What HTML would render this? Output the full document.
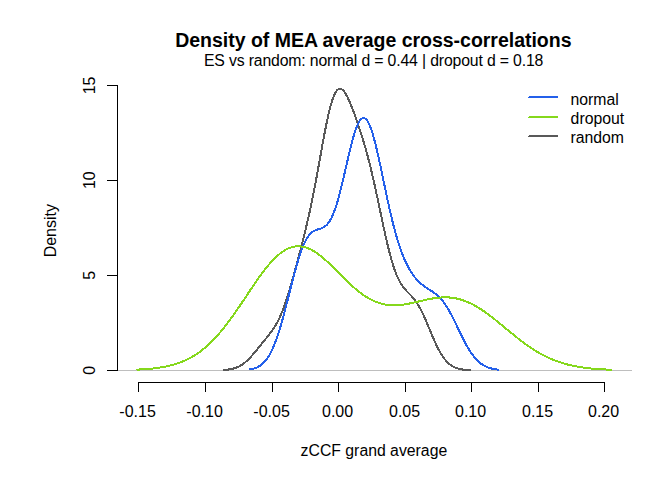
<!DOCTYPE html>
<html><head><meta charset="utf-8"><title>Density of MEA average cross-correlations</title>
<style>
html,body{margin:0;padding:0;background:#fff;width:672px;height:480px;overflow:hidden;font-family:"Liberation Sans",sans-serif;}
</style></head>
<body>
<svg width="672" height="480" viewBox="0 0 672 480" style="display:block;position:absolute;left:0;top:0">
<rect width="672" height="480" fill="#fff"/>
<g shape-rendering="crispEdges" stroke="#BEBEBE" stroke-width="1"><line x1="117" y1="370.5" x2="632" y2="370.5"/></g>
<g fill="none" stroke-width="2" stroke-linejoin="round" stroke-linecap="butt" shape-rendering="crispEdges">
<path d="M222.9,370.00 L223.9,369.96 L224.9,369.89 L225.9,369.81 L226.9,369.71 L227.9,369.59 L228.9,369.46 L229.9,369.30 L230.9,369.12 L231.9,368.91 L232.9,368.67 L233.9,368.40 L234.9,368.10 L235.9,367.75 L236.9,367.37 L237.9,366.94 L238.9,366.47 L239.9,365.94 L240.9,365.37 L241.9,364.74 L242.9,364.07 L243.9,363.34 L244.9,362.55 L245.9,361.71 L246.9,360.82 L247.9,359.88 L248.9,358.90 L249.9,357.86 L250.9,356.79 L251.9,355.68 L252.9,354.54 L253.9,353.37 L254.9,352.17 L255.9,350.96 L256.9,349.74 L257.9,348.51 L258.9,347.27 L259.9,346.03 L260.9,344.79 L261.9,343.56 L262.9,342.33 L263.9,341.10 L264.9,339.88 L265.9,338.65 L266.9,337.42 L267.9,336.17 L268.9,334.91 L269.9,333.61 L270.9,332.28 L271.9,330.91 L272.9,329.47 L273.9,327.97 L274.9,326.38 L275.9,324.71 L276.9,322.93 L277.9,321.05 L278.9,319.05 L279.9,316.92 L280.9,314.67 L281.9,312.28 L282.9,309.76 L283.9,307.11 L284.9,304.32 L285.9,301.42 L286.9,298.39 L287.9,295.24 L288.9,292.00 L289.9,288.65 L290.9,285.23 L291.9,281.73 L292.9,278.16 L293.9,274.54 L294.9,270.88 L295.9,267.17 L296.9,263.44 L297.9,259.67 L298.9,255.87 L299.9,252.05 L300.9,248.19 L301.9,244.30 L302.9,240.36 L303.9,236.37 L304.9,232.32 L305.9,228.19 L306.9,223.98 L307.9,219.67 L308.9,215.25 L309.9,210.72 L310.9,206.07 L311.9,201.28 L312.9,196.36 L313.9,191.32 L314.9,186.14 L315.9,180.86 L316.9,175.47 L317.9,170.00 L318.9,164.46 L319.9,158.89 L320.9,153.30 L321.9,147.75 L322.9,142.25 L323.9,136.84 L324.9,131.57 L325.9,126.47 L326.9,121.57 L327.9,116.92 L328.9,112.55 L329.9,108.49 L330.9,104.76 L331.9,101.39 L332.9,98.40 L333.9,95.80 L334.9,93.61 L335.9,91.82 L336.9,90.45 L337.9,89.47 L338.9,88.88 L339.9,88.67 L340.9,88.82 L341.9,89.31 L342.9,90.12 L343.9,91.21 L344.9,92.57 L345.9,94.17 L346.9,95.98 L347.9,97.97 L348.9,100.12 L349.9,102.42 L350.9,104.83 L351.9,107.34 L352.9,109.94 L353.9,112.61 L354.9,115.35 L355.9,118.15 L356.9,121.01 L357.9,123.92 L358.9,126.89 L359.9,129.91 L360.9,133.00 L361.9,136.17 L362.9,139.41 L363.9,142.73 L364.9,146.15 L365.9,149.67 L366.9,153.29 L367.9,157.03 L368.9,160.87 L369.9,164.83 L370.9,168.91 L371.9,173.09 L372.9,177.39 L373.9,181.79 L374.9,186.27 L375.9,190.85 L376.9,195.49 L377.9,200.18 L378.9,204.91 L379.9,209.66 L380.9,214.42 L381.9,219.15 L382.9,223.85 L383.9,228.49 L384.9,233.05 L385.9,237.51 L386.9,241.85 L387.9,246.05 L388.9,250.11 L389.9,253.99 L390.9,257.69 L391.9,261.21 L392.9,264.52 L393.9,267.62 L394.9,270.52 L395.9,273.21 L396.9,275.69 L397.9,277.97 L398.9,280.05 L399.9,281.95 L400.9,283.68 L401.9,285.25 L402.9,286.68 L403.9,287.99 L404.9,289.20 L405.9,290.33 L406.9,291.40 L407.9,292.42 L408.9,293.43 L409.9,294.44 L410.9,295.47 L411.9,296.53 L412.9,297.66 L413.9,298.85 L414.9,300.12 L415.9,301.48 L416.9,302.95 L417.9,304.51 L418.9,306.19 L419.9,307.97 L420.9,309.85 L421.9,311.84 L422.9,313.91 L423.9,316.07 L424.9,318.30 L425.9,320.60 L426.9,322.94 L427.9,325.32 L428.9,327.73 L429.9,330.14 L430.9,332.54 L431.9,334.92 L432.9,337.27 L433.9,339.57 L434.9,341.81 L435.9,343.99 L436.9,346.08 L437.9,348.09 L438.9,350.01 L439.9,351.83 L440.9,353.56 L441.9,355.17 L442.9,356.68 L443.9,358.09 L444.9,359.39 L445.9,360.60 L446.9,361.70 L447.9,362.70 L448.9,363.61 L449.9,364.44 L450.9,365.18 L451.9,365.85 L452.9,366.44 L453.9,366.97 L454.9,367.44 L455.9,367.85 L456.9,368.21 L457.9,368.52 L458.9,368.80 L459.9,369.03 L460.9,369.23 L461.9,369.41 L462.9,369.56 L463.9,369.68 L464.9,369.79 L465.9,369.88 L466.9,369.95 L467.9,370.00 L468.9,370.00 L469.9,370.00 L470.6,370.00" stroke="#595959"/>
<path d="M249.5,369.48 L250.5,369.32 L251.5,369.13 L252.5,368.91 L253.5,368.65 L254.5,368.36 L255.5,368.01 L256.5,367.62 L257.5,367.17 L258.5,366.65 L259.5,366.07 L260.5,365.41 L261.5,364.66 L262.5,363.83 L263.5,362.89 L264.5,361.85 L265.5,360.70 L266.5,359.43 L267.5,358.03 L268.5,356.49 L269.5,354.82 L270.5,353.01 L271.5,351.04 L272.5,348.93 L273.5,346.66 L274.5,344.23 L275.5,341.65 L276.5,338.92 L277.5,336.03 L278.5,332.99 L279.5,329.82 L280.5,326.51 L281.5,323.07 L282.5,319.52 L283.5,315.86 L284.5,312.11 L285.5,308.29 L286.5,304.40 L287.5,300.47 L288.5,296.50 L289.5,292.53 L290.5,288.56 L291.5,284.61 L292.5,280.71 L293.5,276.86 L294.5,273.10 L295.5,269.43 L296.5,265.87 L297.5,262.44 L298.5,259.15 L299.5,256.01 L300.5,253.04 L301.5,250.24 L302.5,247.63 L303.5,245.20 L304.5,242.97 L305.5,240.94 L306.5,239.10 L307.5,237.45 L308.5,235.99 L309.5,234.71 L310.5,233.60 L311.5,232.66 L312.5,231.86 L313.5,231.19 L314.5,230.64 L315.5,230.19 L316.5,229.81 L317.5,229.48 L318.5,229.19 L319.5,228.90 L320.5,228.60 L321.5,228.26 L322.5,227.85 L323.5,227.36 L324.5,226.76 L325.5,226.02 L326.5,225.13 L327.5,224.06 L328.5,222.81 L329.5,221.35 L330.5,219.67 L331.5,217.77 L332.5,215.64 L333.5,213.27 L334.5,210.66 L335.5,207.81 L336.5,204.74 L337.5,201.45 L338.5,197.95 L339.5,194.26 L340.5,190.39 L341.5,186.38 L342.5,182.23 L343.5,177.98 L344.5,173.65 L345.5,169.28 L346.5,164.90 L347.5,160.53 L348.5,156.22 L349.5,151.98 L350.5,147.87 L351.5,143.90 L352.5,140.12 L353.5,136.55 L354.5,133.22 L355.5,130.16 L356.5,127.40 L357.5,124.96 L358.5,122.85 L359.5,121.10 L360.5,119.73 L361.5,118.73 L362.5,118.13 L363.5,117.93 L364.5,118.13 L365.5,118.73 L366.5,119.72 L367.5,121.10 L368.5,122.85 L369.5,124.97 L370.5,127.43 L371.5,130.22 L372.5,133.33 L373.5,136.71 L374.5,140.36 L375.5,144.25 L376.5,148.34 L377.5,152.62 L378.5,157.05 L379.5,161.61 L380.5,166.27 L381.5,171.00 L382.5,175.79 L383.5,180.59 L384.5,185.39 L385.5,190.17 L386.5,194.90 L387.5,199.57 L388.5,204.15 L389.5,208.64 L390.5,213.01 L391.5,217.27 L392.5,221.39 L393.5,225.37 L394.5,229.21 L395.5,232.90 L396.5,236.43 L397.5,239.81 L398.5,243.04 L399.5,246.12 L400.5,249.04 L401.5,251.82 L402.5,254.46 L403.5,256.96 L404.5,259.33 L405.5,261.57 L406.5,263.69 L407.5,265.70 L408.5,267.59 L409.5,269.37 L410.5,271.06 L411.5,272.65 L412.5,274.14 L413.5,275.55 L414.5,276.88 L415.5,278.13 L416.5,279.30 L417.5,280.40 L418.5,281.44 L419.5,282.41 L420.5,283.32 L421.5,284.18 L422.5,284.99 L423.5,285.76 L424.5,286.48 L425.5,287.18 L426.5,287.85 L427.5,288.49 L428.5,289.13 L429.5,289.76 L430.5,290.39 L431.5,291.03 L432.5,291.69 L433.5,292.37 L434.5,293.08 L435.5,293.84 L436.5,294.64 L437.5,295.50 L438.5,296.42 L439.5,297.40 L440.5,298.46 L441.5,299.59 L442.5,300.80 L443.5,302.09 L444.5,303.45 L445.5,304.91 L446.5,306.44 L447.5,308.05 L448.5,309.73 L449.5,311.48 L450.5,313.30 L451.5,315.18 L452.5,317.12 L453.5,319.10 L454.5,321.11 L455.5,323.16 L456.5,325.23 L457.5,327.31 L458.5,329.40 L459.5,331.48 L460.5,333.55 L461.5,335.59 L462.5,337.61 L463.5,339.59 L464.5,341.52 L465.5,343.40 L466.5,345.23 L467.5,346.99 L468.5,348.69 L469.5,350.32 L470.5,351.88 L471.5,353.36 L472.5,354.76 L473.5,356.09 L474.5,357.34 L475.5,358.51 L476.5,359.61 L477.5,360.63 L478.5,361.58 L479.5,362.45 L480.5,363.26 L481.5,364.01 L482.5,364.69 L483.5,365.31 L484.5,365.87 L485.5,366.38 L486.5,366.85 L487.5,367.26 L488.5,367.64 L489.5,367.97 L490.5,368.27 L491.5,368.53 L492.5,368.77 L493.5,368.98 L494.5,369.16 L495.5,369.32 L496.5,369.46 L497.5,369.58 L498.5,369.69 L498.6,369.70" stroke="#2460EA"/>
<path d="M136.5,369.65 L137.5,369.61 L138.5,369.56 L139.5,369.51 L140.5,369.46 L141.5,369.40 L142.5,369.34 L143.5,369.28 L144.5,369.21 L145.5,369.14 L146.5,369.07 L147.5,368.99 L148.5,368.90 L149.5,368.82 L150.5,368.72 L151.5,368.63 L152.5,368.52 L153.5,368.41 L154.5,368.30 L155.5,368.18 L156.5,368.05 L157.5,367.92 L158.5,367.78 L159.5,367.63 L160.5,367.48 L161.5,367.32 L162.5,367.15 L163.5,366.97 L164.5,366.78 L165.5,366.59 L166.5,366.38 L167.5,366.17 L168.5,365.94 L169.5,365.71 L170.5,365.46 L171.5,365.20 L172.5,364.94 L173.5,364.66 L174.5,364.36 L175.5,364.06 L176.5,363.74 L177.5,363.41 L178.5,363.07 L179.5,362.71 L180.5,362.34 L181.5,361.95 L182.5,361.55 L183.5,361.13 L184.5,360.70 L185.5,360.25 L186.5,359.78 L187.5,359.30 L188.5,358.80 L189.5,358.28 L190.5,357.74 L191.5,357.19 L192.5,356.61 L193.5,356.02 L194.5,355.40 L195.5,354.77 L196.5,354.12 L197.5,353.45 L198.5,352.75 L199.5,352.04 L200.5,351.30 L201.5,350.55 L202.5,349.77 L203.5,348.97 L204.5,348.14 L205.5,347.30 L206.5,346.43 L207.5,345.54 L208.5,344.63 L209.5,343.70 L210.5,342.74 L211.5,341.76 L212.5,340.76 L213.5,339.74 L214.5,338.69 L215.5,337.63 L216.5,336.54 L217.5,335.43 L218.5,334.29 L219.5,333.14 L220.5,331.96 L221.5,330.77 L222.5,329.55 L223.5,328.31 L224.5,327.06 L225.5,325.78 L226.5,324.49 L227.5,323.18 L228.5,321.85 L229.5,320.50 L230.5,319.14 L231.5,317.76 L232.5,316.37 L233.5,314.96 L234.5,313.55 L235.5,312.11 L236.5,310.67 L237.5,309.22 L238.5,307.75 L239.5,306.28 L240.5,304.80 L241.5,303.32 L242.5,301.82 L243.5,300.33 L244.5,298.83 L245.5,297.33 L246.5,295.83 L247.5,294.32 L248.5,292.82 L249.5,291.32 L250.5,289.83 L251.5,288.34 L252.5,286.86 L253.5,285.39 L254.5,283.92 L255.5,282.46 L256.5,281.02 L257.5,279.59 L258.5,278.18 L259.5,276.78 L260.5,275.39 L261.5,274.03 L262.5,272.68 L263.5,271.36 L264.5,270.06 L265.5,268.78 L266.5,267.53 L267.5,266.30 L268.5,265.10 L269.5,263.93 L270.5,262.79 L271.5,261.67 L272.5,260.60 L273.5,259.55 L274.5,258.54 L275.5,257.56 L276.5,256.62 L277.5,255.71 L278.5,254.84 L279.5,254.02 L280.5,253.23 L281.5,252.48 L282.5,251.77 L283.5,251.10 L284.5,250.47 L285.5,249.89 L286.5,249.35 L287.5,248.85 L288.5,248.40 L289.5,247.99 L290.5,247.62 L291.5,247.30 L292.5,247.02 L293.5,246.79 L294.5,246.60 L295.5,246.46 L296.5,246.36 L297.5,246.30 L298.5,246.29 L299.5,246.32 L300.5,246.39 L301.5,246.51 L302.5,246.67 L303.5,246.87 L304.5,247.11 L305.5,247.39 L306.5,247.71 L307.5,248.07 L308.5,248.47 L309.5,248.91 L310.5,249.38 L311.5,249.89 L312.5,250.43 L313.5,251.00 L314.5,251.61 L315.5,252.25 L316.5,252.92 L317.5,253.62 L318.5,254.34 L319.5,255.09 L320.5,255.87 L321.5,256.67 L322.5,257.50 L323.5,258.34 L324.5,259.21 L325.5,260.09 L326.5,260.99 L327.5,261.91 L328.5,262.85 L329.5,263.79 L330.5,264.75 L331.5,265.72 L332.5,266.70 L333.5,267.69 L334.5,268.68 L335.5,269.68 L336.5,270.68 L337.5,271.68 L338.5,272.69 L339.5,273.70 L340.5,274.70 L341.5,275.71 L342.5,276.71 L343.5,277.70 L344.5,278.69 L345.5,279.67 L346.5,280.64 L347.5,281.61 L348.5,282.56 L349.5,283.51 L350.5,284.44 L351.5,285.35 L352.5,286.26 L353.5,287.14 L354.5,288.02 L355.5,288.87 L356.5,289.71 L357.5,290.53 L358.5,291.33 L359.5,292.12 L360.5,292.88 L361.5,293.62 L362.5,294.34 L363.5,295.04 L364.5,295.72 L365.5,296.37 L366.5,297.01 L367.5,297.62 L368.5,298.20 L369.5,298.76 L370.5,299.30 L371.5,299.82 L372.5,300.31 L373.5,300.78 L374.5,301.22 L375.5,301.64 L376.5,302.03 L377.5,302.41 L378.5,302.75 L379.5,303.08 L380.5,303.38 L381.5,303.65 L382.5,303.90 L383.5,304.13 L384.5,304.34 L385.5,304.53 L386.5,304.69 L387.5,304.83 L388.5,304.95 L389.5,305.05 L390.5,305.13 L391.5,305.19 L392.5,305.23 L393.5,305.25 L394.5,305.25 L395.5,305.24 L396.5,305.21 L397.5,305.16 L398.5,305.09 L399.5,305.01 L400.5,304.92 L401.5,304.81 L402.5,304.69 L403.5,304.55 L404.5,304.41 L405.5,304.25 L406.5,304.08 L407.5,303.90 L408.5,303.71 L409.5,303.52 L410.5,303.32 L411.5,303.11 L412.5,302.89 L413.5,302.67 L414.5,302.44 L415.5,302.21 L416.5,301.98 L417.5,301.75 L418.5,301.51 L419.5,301.28 L420.5,301.04 L421.5,300.81 L422.5,300.57 L423.5,300.34 L424.5,300.12 L425.5,299.89 L426.5,299.67 L427.5,299.46 L428.5,299.26 L429.5,299.06 L430.5,298.87 L431.5,298.68 L432.5,298.51 L433.5,298.34 L434.5,298.19 L435.5,298.05 L436.5,297.92 L437.5,297.80 L438.5,297.69 L439.5,297.60 L440.5,297.52 L441.5,297.45 L442.5,297.40 L443.5,297.37 L444.5,297.35 L445.5,297.35 L446.5,297.36 L447.5,297.40 L448.5,297.45 L449.5,297.51 L450.5,297.60 L451.5,297.70 L452.5,297.82 L453.5,297.97 L454.5,298.13 L455.5,298.31 L456.5,298.51 L457.5,298.72 L458.5,298.96 L459.5,299.22 L460.5,299.50 L461.5,299.80 L462.5,300.11 L463.5,300.45 L464.5,300.81 L465.5,301.18 L466.5,301.58 L467.5,301.99 L468.5,302.43 L469.5,302.88 L470.5,303.35 L471.5,303.84 L472.5,304.35 L473.5,304.87 L474.5,305.42 L475.5,305.98 L476.5,306.55 L477.5,307.14 L478.5,307.75 L479.5,308.38 L480.5,309.01 L481.5,309.67 L482.5,310.33 L483.5,311.02 L484.5,311.71 L485.5,312.41 L486.5,313.13 L487.5,313.86 L488.5,314.60 L489.5,315.35 L490.5,316.11 L491.5,316.88 L492.5,317.66 L493.5,318.44 L494.5,319.23 L495.5,320.03 L496.5,320.83 L497.5,321.64 L498.5,322.45 L499.5,323.27 L500.5,324.09 L501.5,324.92 L502.5,325.74 L503.5,326.57 L504.5,327.40 L505.5,328.23 L506.5,329.05 L507.5,329.88 L508.5,330.71 L509.5,331.53 L510.5,332.35 L511.5,333.17 L512.5,333.98 L513.5,334.80 L514.5,335.60 L515.5,336.40 L516.5,337.20 L517.5,337.99 L518.5,338.77 L519.5,339.54 L520.5,340.31 L521.5,341.07 L522.5,341.83 L523.5,342.57 L524.5,343.31 L525.5,344.03 L526.5,344.75 L527.5,345.46 L528.5,346.15 L529.5,346.84 L530.5,347.52 L531.5,348.18 L532.5,348.84 L533.5,349.48 L534.5,350.11 L535.5,350.73 L536.5,351.34 L537.5,351.94 L538.5,352.53 L539.5,353.10 L540.5,353.66 L541.5,354.21 L542.5,354.75 L543.5,355.28 L544.5,355.79 L545.5,356.30 L546.5,356.79 L547.5,357.27 L548.5,357.73 L549.5,358.19 L550.5,358.63 L551.5,359.06 L552.5,359.48 L553.5,359.89 L554.5,360.29 L555.5,360.68 L556.5,361.05 L557.5,361.42 L558.5,361.77 L559.5,362.11 L560.5,362.44 L561.5,362.76 L562.5,363.08 L563.5,363.38 L564.5,363.67 L565.5,363.95 L566.5,364.22 L567.5,364.48 L568.5,364.74 L569.5,364.98 L570.5,365.22 L571.5,365.45 L572.5,365.67 L573.5,365.88 L574.5,366.08 L575.5,366.28 L576.5,366.47 L577.5,366.65 L578.5,366.82 L579.5,366.99 L580.5,367.15 L581.5,367.30 L582.5,367.45 L583.5,367.59 L584.5,367.73 L585.5,367.85 L586.5,367.98 L587.5,368.10 L588.5,368.21 L589.5,368.32 L590.5,368.42 L591.5,368.52 L592.5,368.62 L593.5,368.71 L594.5,368.79 L595.5,368.87 L596.5,368.95 L597.5,369.03 L598.5,369.10 L599.5,369.16 L600.5,369.23 L601.5,369.29 L602.5,369.35 L603.5,369.40 L604.5,369.45 L605.5,369.50 L606.5,369.55 L607.5,369.59 L608.5,369.63 L609.5,369.67 L610.5,369.71 L611.5,369.75 L612.5,369.78" stroke="#85D81C"/>
</g>
<g shape-rendering="crispEdges" stroke="#000" stroke-width="1" fill="none">
<line x1="138" y1="382.5" x2="605" y2="382.5"/>
<line x1="138.5" y1="382" x2="138.5" y2="392"/>
<line x1="205.5" y1="382" x2="205.5" y2="392"/>
<line x1="272.5" y1="382" x2="272.5" y2="392"/>
<line x1="338.5" y1="382" x2="338.5" y2="392"/>
<line x1="405.5" y1="382" x2="405.5" y2="392"/>
<line x1="471.5" y1="382" x2="471.5" y2="392"/>
<line x1="538.5" y1="382" x2="538.5" y2="392"/>
<line x1="604.5" y1="382" x2="604.5" y2="392"/>
<line x1="117.5" y1="85" x2="117.5" y2="371"/>
<line x1="107" y1="370.5" x2="118" y2="370.5"/>
<line x1="107" y1="275.5" x2="118" y2="275.5"/>
<line x1="107" y1="180.5" x2="118" y2="180.5"/>
<line x1="107" y1="85.5" x2="118" y2="85.5"/>
</g>
<g font-family="Liberation Sans, sans-serif" font-size="16" fill="#000">
<text x="137.6" y="417" text-anchor="middle">-0.15</text>
<text x="204.6" y="417" text-anchor="middle">-0.10</text>
<text x="271.6" y="417" text-anchor="middle">-0.05</text>
<text x="337.6" y="417" text-anchor="middle">0.00</text>
<text x="404.6" y="417" text-anchor="middle">0.05</text>
<text x="470.6" y="417" text-anchor="middle">0.10</text>
<text x="537.6" y="417" text-anchor="middle">0.15</text>
<text x="603.6" y="417" text-anchor="middle">0.20</text>
<text transform="translate(94.8,370.2) rotate(-90)" text-anchor="middle">0</text>
<text transform="translate(94.8,275.4) rotate(-90)" text-anchor="middle">5</text>
<text transform="translate(94.8,180.2) rotate(-90)" text-anchor="middle">10</text>
<text transform="translate(94.8,85.4) rotate(-90)" text-anchor="middle">15</text>
<text x="373.9" y="455.5" text-anchor="middle" font-size="15.8">zCCF grand average</text>
<text transform="translate(55.8,230.7) rotate(-90)" text-anchor="middle">Density</text>
<text x="203.9" y="65.5" font-size="15.8" textLength="339.5" lengthAdjust="spacing">ES vs random: normal d = 0.44 | dropout d = 0.18</text>
<text x="175.2" y="46.7" font-weight="bold" font-size="19.5" textLength="396.3" lengthAdjust="spacing">Density of MEA average cross-correlations</text>
<text x="570.4" y="104.6" font-size="15.8">normal</text>
<text x="570.6" y="123.6" font-size="15.8">dropout</text>
<text x="570.4" y="142.7" font-size="15.8">random</text>
</g>
<g shape-rendering="crispEdges" stroke-width="2">
<line x1="528" y1="97" x2="558" y2="97" stroke="#2460EA"/>
<line x1="528" y1="117" x2="558" y2="117" stroke="#85D81C"/>
<line x1="528" y1="136" x2="558" y2="136" stroke="#595959"/>
</g>
<g shape-rendering="crispEdges" fill="#fff"><rect x="528" y="96" width="1" height="1"/><rect x="528" y="116" width="1" height="1"/><rect x="528" y="135" width="1" height="1"/></g>
</svg>
</body></html>
